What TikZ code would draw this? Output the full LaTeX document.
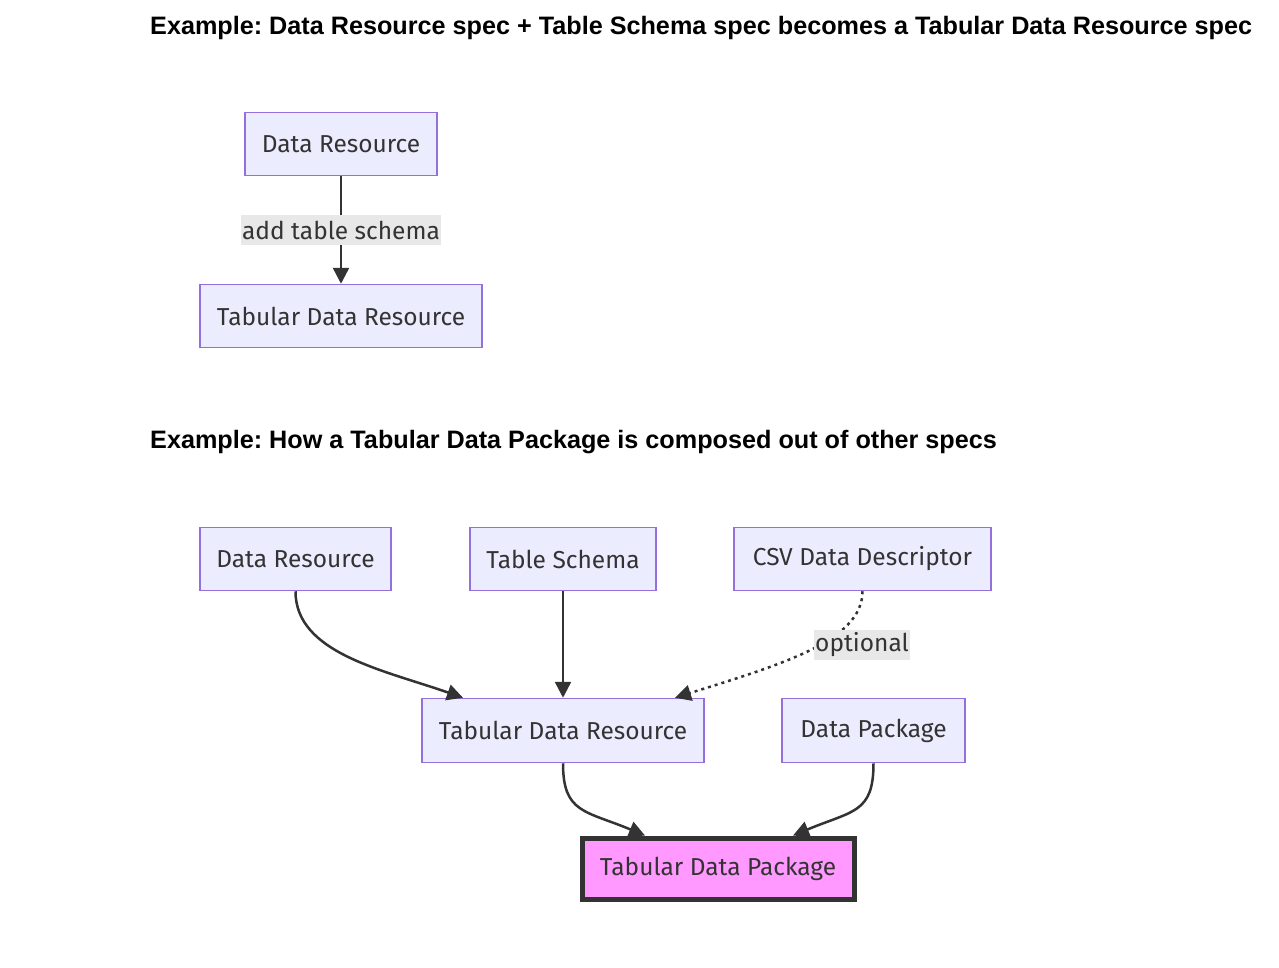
\documentclass[tikz,border=0pt]{standalone}
\usepackage{fontspec}
\setmainfont{Fira Sans}
\newfontfamily\titlefont{Liberation Sans}
\usetikzlibrary{arrows.meta}
\definecolor{boxfill}{HTML}{ECECFF}
\definecolor{boxline}{HTML}{9370DB}
\definecolor{ink}{HTML}{333333}
\definecolor{lblfill}{HTML}{E8E8E8}
\definecolor{pkgfill}{HTML}{FF99FF}
\frenchspacing
\begin{document}
\begin{tikzpicture}[x=1pt, y=-1pt,
	spec/.style={rectangle, draw=boxline, fill=boxfill, line width=1.5pt, text=ink,
		inner sep=0pt, minimum height=63pt, font=\fontsize{24.5}{28}\selectfont},
	final/.style={spec, draw=ink, fill=pkgfill, line width=5pt, minimum height=61pt},
	heading/.style={anchor=west, inner sep=0pt, font=\titlefont\bfseries\fontsize{25.2}{28}\selectfont},
	lbl/.style={fill=lblfill, text=ink, inner sep=1pt, minimum height=30pt, font=\fontsize{24.5}{28}\selectfont},
	link/.style={draw=ink, line width=2.5pt, -{Triangle[length=16pt, width=16pt]}},
	optlink/.style={link, dash pattern=on 3pt off 4pt}]
	\fill[white] (0,0) rectangle (1279,967);
	\useasboundingbox (0,0) rectangle (1279,967);
	% first example
	\node [heading] (head1) at (150,27.5) {Example: Data Resource spec + Table Schema spec becomes a Tabular Data Resource spec};
	\node [spec, minimum width=192pt] (dra) at (341,144) {Data Resource};
	\node [spec, minimum width=282pt] (tdra) at (341,316) {Tabular Data Resource};
	\draw [link] (dra) -- node[lbl] {add table schema} (tdra);
	% second example
	\node [heading] (head2) at (150,442.5) {Example: How a Tabular Data Package is composed out of other specs};
	\node [spec, minimum width=191pt] (drb) at (295.5,559) {Data Resource};
	\node [spec, minimum width=186pt] (ts) at (563,559) {Table Schema};
	\node [spec, minimum width=257pt] (csv) at (862.5,559) {CSV Data Descriptor};
	\node [spec, minimum width=282pt, minimum height=64pt] (tdrb) at (563,730.5) {Tabular Data Resource};
	\node [spec, minimum width=183pt, minimum height=64pt] (dp) at (873.5,730.5) {Data Package};
	\node [final, minimum width=272pt] (tdp) at (718,868.5) {Tabular Data Package};
	\draw [link] (drb.south) .. controls +(0,62) and +(-80,-28) .. ([xshift=-100pt]tdrb.north);
	\draw [link] (ts) -- (tdrb);
	\draw [optlink] (csv.south) .. controls +(0,50) and +(105,-33) .. ([xshift=112pt]tdrb.north);
	\node [lbl] (opt) at (862,644.5) {optional};
	\draw [link] (tdrb.south) .. controls +(0,50) and +(-60,-25) .. ([xshift=-73pt]tdp.north);
	\draw [link] (dp.south) .. controls +(0,50) and +(60,-25) .. ([xshift=75pt]tdp.north);
\end{tikzpicture}
\end{document}
